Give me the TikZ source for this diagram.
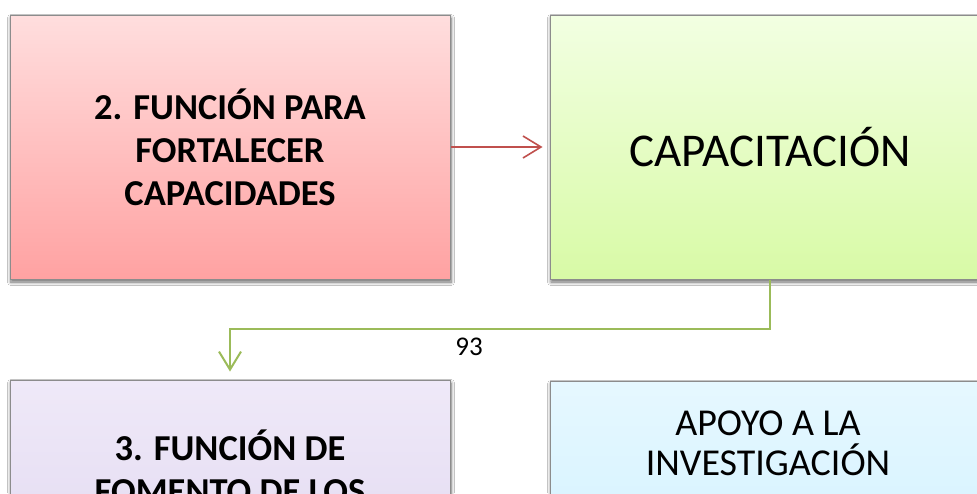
\documentclass[tikz,border=0pt]{standalone}
\usepackage{fontspec}
\setmainfont{Carlito}
\usetikzlibrary{arrows.meta,shadows.blur}
\definecolor{boxborder}{HTML}{8C8C8C}
\definecolor{redtop}{HTML}{FFDEDE}
\definecolor{redbot}{HTML}{FFA2A2}
\definecolor{greentop}{HTML}{F2FFE2}
\definecolor{greenbot}{HTML}{D8FAA6}
\definecolor{purptop}{HTML}{EFE9F8}
\definecolor{purpbot}{HTML}{DCD2EE}
\definecolor{bluetop}{HTML}{E6F8FF}
\definecolor{bluebot}{HTML}{C8EEFF}
\definecolor{redline}{HTML}{C0504D}
\definecolor{greenline}{HTML}{9BBB59}
\begin{document}
\begin{tikzpicture}[x=1pt,y=-1pt,
  box/.style={draw=boxborder, line width=1pt, rectangle, inner sep=0pt,
    minimum width=440pt, minimum height=264pt, align=center,
    blur shadow={shadow xshift=1pt, shadow yshift=-3pt, shadow blur radius=3.5pt, shadow blur steps=6, shadow opacity=60}},
  boldtxt/.style={font=\fontsize{36.5}{43}\selectfont\bfseries},
  bigtxt/.style={font=\fontsize{47}{54}\selectfont},
  midtxt/.style={font=\fontsize{38}{40}\selectfont},
  redarrow/.style={draw=redline, line width=1.6pt, -{Straight Barb[length=18pt,width=22pt,line width=1.6pt]}},
  greenarrow/.style={draw=greenline, line width=2pt, -{Straight Barb[length=18pt,width=22pt,line width=2pt]}}
]
\useasboundingbox (0,0) rectangle (977,493);
\clip (0,0) rectangle (977,493);
\fill[white] (0,0) rectangle (977,493);

\node[box, top color=redtop, bottom color=redbot, boldtxt] (fun2) at (230,147)
  {2. FUNCIÓN PARA\\FORTALECER\\CAPACIDADES};
\node[box, top color=greentop, bottom color=greenbot, bigtxt] (cap) at (770,147)
  {CAPACITACIÓN};
\node[box, top color=purptop, bottom color=purpbot, minimum height=300pt] (fun3) at (230,530) {};
\node[box, top color=bluetop, bottom color=bluebot, minimum height=300pt] (apoyo) at (770,531) {};

\node[boldtxt, anchor=base, inner sep=0pt] (fun3a) at (230,460) {3. FUNCIÓN DE};
\node[boldtxt, anchor=base, inner sep=0pt] (fun3b) at (230,503) {FOMENTO DE LOS};
\node[midtxt, anchor=base, inner sep=0pt] (apoyoa) at (768,435) {APOYO A LA};
\node[midtxt, anchor=base, inner sep=0pt] (apoyob) at (768,475) {INVESTIGACIÓN};

\draw[redarrow, shorten >=7pt] (fun2.east) -- (cap.west);

\coordinate (turn) at (230,329);
\draw[greenarrow, shorten >=8pt] (cap.south) |- (turn) -- (fun3.north);

\node[font=\fontsize{27}{30}\selectfont, anchor=base, inner sep=0pt] (num) at (469,355) {93};
\end{tikzpicture}
\end{document}
